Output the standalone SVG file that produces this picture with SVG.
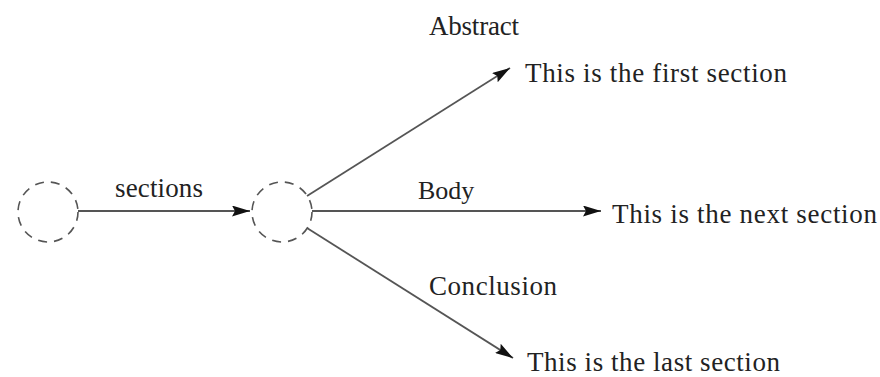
<svg xmlns="http://www.w3.org/2000/svg" width="880" height="377" viewBox="0 0 880 377">
<style>
.node{fill:none;stroke:#555;stroke-width:1.6;stroke-dasharray:9 7}
.edge{stroke:#555;stroke-width:1.8;fill:none}
text{font-family:"Liberation Serif","Times New Roman",serif;font-size:27px;fill:#222}
.small{font-size:26px}
</style>
<defs>
<marker id="arr" viewBox="0 0 18 11" refX="18" refY="5.5" markerWidth="18" markerHeight="11" markerUnits="userSpaceOnUse" orient="auto">
<path d="M0,0 L18,5.5 L0,11 L3,5.5 Z" fill="#111"/>
</marker>
</defs>
<rect width="880" height="377" fill="#fff"/>
<g id="connectors">
<line class="edge" x1="78" y1="211" x2="250" y2="211" marker-end="url(#arr)"/>
<line class="edge" x1="307" y1="196" x2="510" y2="68" marker-end="url(#arr)"/>
<line class="edge" x1="312" y1="211" x2="601" y2="211" marker-end="url(#arr)"/>
<line class="edge" x1="307" y1="228" x2="513" y2="358" marker-end="url(#arr)"/>
<text x="115" y="197" textLength="88">sections</text>
<text x="429" y="35" textLength="90">Abstract</text>
<text class="small" x="418" y="199">Body</text>
<text x="429" y="295" textLength="128">Conclusion</text>
</g>
<g id="n1"><circle class="node" cx="48" cy="212" r="30"/></g>
<g id="n2"><circle class="node" cx="282" cy="212" r="30"/></g>
<g id="t1"><text x="525" y="82" textLength="262">This is the first section</text></g>
<g id="t2"><text x="612" y="223" textLength="265">This is the next section</text></g>
<g id="t3"><text x="527" y="371" textLength="253">This is the last section</text></g>
</svg>
